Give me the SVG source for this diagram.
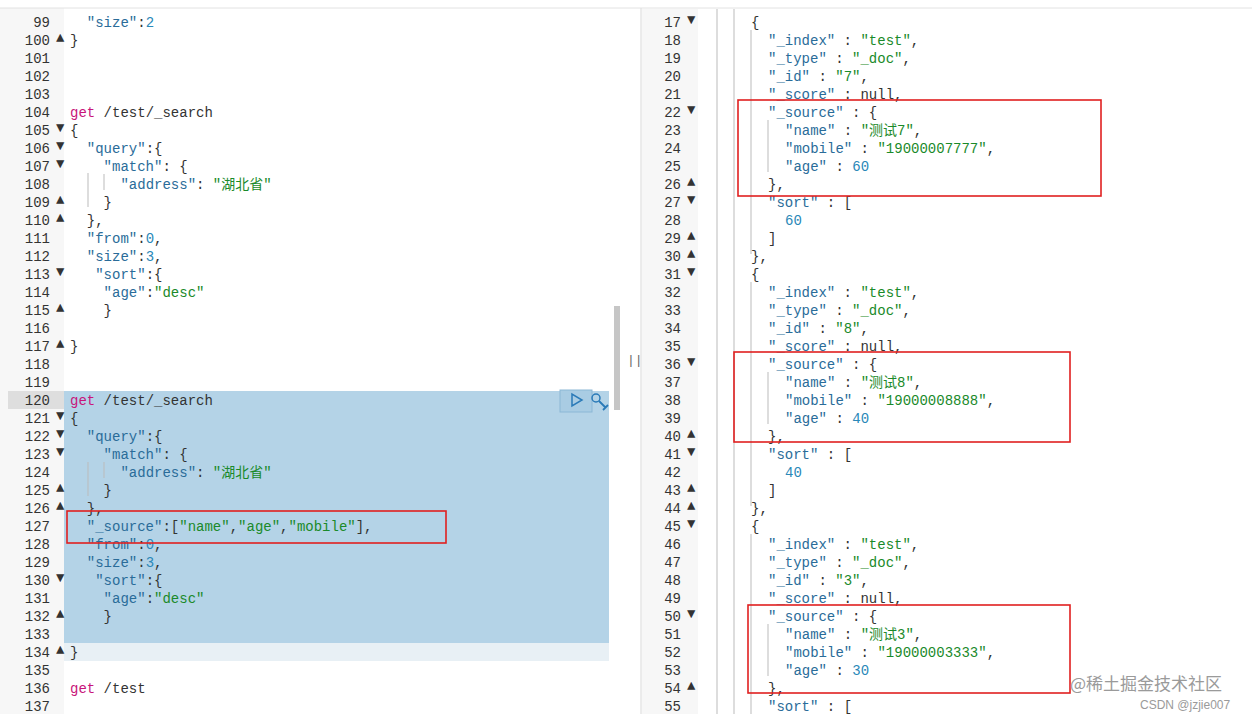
<svg xmlns="http://www.w3.org/2000/svg" width="1252" height="714" viewBox="0 0 1252 714">
<style>
text{font-family:"Liberation Mono","Noto Sans CJK SC",monospace;font-size:14px;fill:#333;white-space:pre}
.ln{fill:#555;text-anchor:end}
.k{fill:#2a6c99}.s{fill:#1a8a2a}.n{fill:#2a88b8}.m{fill:#c8157a}
.fd{fill:#999;font-size:6px;font-family:"DejaVu Sans",sans-serif}
.g{stroke:#bbb;stroke-width:1}
.box{fill:none;stroke:#e02020;stroke-width:1.6}
</style>
<rect width="1252" height="714" fill="#fff"/>
<g id="left">
<rect x="0" y="8" width="64" height="706" fill="#f7f7f7"/>
<rect x="8" y="391" width="56" height="18" fill="#dedede"/>
<rect x="64" y="391" width="545" height="252" fill="#b4d3e7"/>
<rect x="64" y="643" width="545" height="18" fill="#e8f0f5"/>
<rect x="560" y="390" width="32" height="22" fill="#a9cce3" stroke="#8bb8d6"/>
<path d="M572 394 L572 406 L582 400 Z" fill="none" stroke="#2a7ab8" stroke-width="1.5"/>
<circle cx="596" cy="398" r="4" fill="none" stroke="#2a7ab8" stroke-width="1.5"/><path d="M599 401 L606 408 M603 410 L608 405" stroke="#2a7ab8" stroke-width="1.8"/>
<rect x="614" y="306" width="6" height="104" fill="#c6c6c6"/>
<path class="g" d="M88 173 V207 M104 174 V190 M88 462 V496 M104 462 V478"/>
<g class="ln">
<text x="50" y="27">99</text><text x="50" y="45">100</text><text x="50" y="63">101</text><text x="50" y="81">102</text><text x="50" y="99">103</text><text x="50" y="117">104</text><text x="50" y="135">105</text><text x="50" y="153">106</text><text x="50" y="171">107</text><text x="50" y="189">108</text><text x="50" y="207">109</text><text x="50" y="225">110</text><text x="50" y="243">111</text><text x="50" y="261">112</text><text x="50" y="279">113</text><text x="50" y="297">114</text><text x="50" y="315">115</text><text x="50" y="333">116</text><text x="50" y="351">117</text><text x="50" y="369">118</text><text x="50" y="387">119</text><text x="50" y="405">120</text><text x="50" y="423">121</text><text x="50" y="441">122</text><text x="50" y="459">123</text><text x="50" y="477">124</text><text x="50" y="495">125</text><text x="50" y="513">126</text><text x="50" y="531">127</text><text x="50" y="549">128</text><text x="50" y="567">129</text><text x="50" y="585">130</text><text x="50" y="603">131</text><text x="50" y="621">132</text><text x="50" y="639">133</text><text x="50" y="657">134</text><text x="50" y="675">135</text><text x="50" y="693">136</text><text x="50" y="711">137</text>
</g>
<g class="fd">
<text x="56" y="42">▲</text><text x="56" y="132">▼</text><text x="56" y="150">▼</text><text x="56" y="168">▼</text><text x="56" y="204">▲</text><text x="56" y="222">▲</text><text x="56" y="276">▼</text><text x="56" y="312">▲</text><text x="56" y="348">▲</text>
<text x="56" y="420">▼</text><text x="56" y="438">▼</text><text x="56" y="456">▼</text><text x="56" y="492">▲</text><text x="56" y="510">▲</text><text x="56" y="582">▼</text><text x="56" y="618">▲</text><text x="56" y="654">▲</text>
</g>
<text x="70" y="27">  <tspan class="k">"size"</tspan>:<tspan class="n">2</tspan></text>
<text x="70" y="45">}</text>
<text x="70" y="117"><tspan class="m">get</tspan> /test/_search</text>
<text x="70" y="135">{</text>
<text x="70" y="153">  <tspan class="k">"query"</tspan>:{</text>
<text x="70" y="171">    <tspan class="k">"match"</tspan>: {</text>
<text x="70" y="189">      <tspan class="k">"address"</tspan>: <tspan class="s">"湖北省"</tspan></text>
<text x="70" y="207">    }</text>
<text x="70" y="225">  },</text>
<text x="70" y="243">  <tspan class="k">"from"</tspan>:<tspan class="n">0</tspan>,</text>
<text x="70" y="261">  <tspan class="k">"size"</tspan>:<tspan class="n">3</tspan>,</text>
<text x="70" y="279">   <tspan class="k">"sort"</tspan>:{</text>
<text x="70" y="297">    <tspan class="k">"age"</tspan>:<tspan class="s">"desc"</tspan></text>
<text x="70" y="315">    }</text>
<text x="70" y="351">}</text>
<text x="70" y="405"><tspan class="m">get</tspan> /test/_search</text>
<text x="70" y="423">{</text>
<text x="70" y="441">  <tspan class="k">"query"</tspan>:{</text>
<text x="70" y="459">    <tspan class="k">"match"</tspan>: {</text>
<text x="70" y="477">      <tspan class="k">"address"</tspan>: <tspan class="s">"湖北省"</tspan></text>
<text x="70" y="495">    }</text>
<text x="70" y="513">  },</text>
<text x="70" y="531">  <tspan class="k">"_source"</tspan>:[<tspan class="s">"name"</tspan>,<tspan class="s">"age"</tspan>,<tspan class="s">"mobile"</tspan>],</text>
<text x="70" y="549">  <tspan class="k">"from"</tspan>:<tspan class="n">0</tspan>,</text>
<text x="70" y="567">  <tspan class="k">"size"</tspan>:<tspan class="n">3</tspan>,</text>
<text x="70" y="585">   <tspan class="k">"sort"</tspan>:{</text>
<text x="70" y="603">    <tspan class="k">"age"</tspan>:<tspan class="s">"desc"</tspan></text>
<text x="70" y="621">    }</text>
<text x="70" y="657">}</text>
<text x="70" y="693"><tspan class="m">get</tspan> /test</text>
<rect x="67" y="511" width="379" height="32" class="box"/>
</g>
<g id="divider">
<line x1="641" y1="8" x2="641" y2="714" stroke="#d8d8d8"/>
<text x="627" y="364" style="font-size:13px;fill:#666">||</text>
<line x1="0" y1="8" x2="1252" y2="8" stroke="#e2e2e2"/>
</g>
<g id="right">
<rect x="642" y="9" width="56" height="705" fill="#f7f7f7"/>
<path class="g" d="M717 9 V714 M734 9 V714 M751 30 V254 M751 282 V506 M751 534 V714 M768 120 V172 M768 372 V424 M768 624 V676"/>
<g class="ln">
<text x="681" y="27">17</text><text x="681" y="45">18</text><text x="681" y="63">19</text><text x="681" y="81">20</text><text x="681" y="99">21</text><text x="681" y="117">22</text><text x="681" y="135">23</text><text x="681" y="153">24</text><text x="681" y="171">25</text><text x="681" y="189">26</text><text x="681" y="207">27</text><text x="681" y="225">28</text><text x="681" y="243">29</text><text x="681" y="261">30</text><text x="681" y="279">31</text><text x="681" y="297">32</text><text x="681" y="315">33</text><text x="681" y="333">34</text><text x="681" y="351">35</text><text x="681" y="369">36</text><text x="681" y="387">37</text><text x="681" y="405">38</text><text x="681" y="423">39</text><text x="681" y="441">40</text><text x="681" y="459">41</text><text x="681" y="477">42</text><text x="681" y="495">43</text><text x="681" y="513">44</text><text x="681" y="531">45</text><text x="681" y="549">46</text><text x="681" y="567">47</text><text x="681" y="585">48</text><text x="681" y="603">49</text><text x="681" y="621">50</text><text x="681" y="639">51</text><text x="681" y="657">52</text><text x="681" y="675">53</text><text x="681" y="693">54</text><text x="681" y="711">55</text>
</g>
<g class="fd">
<text x="687" y="24">▼</text><text x="687" y="114">▼</text><text x="687" y="186">▲</text><text x="687" y="204">▼</text><text x="687" y="240">▲</text><text x="687" y="258">▲</text>
<text x="687" y="276">▼</text><text x="687" y="366">▼</text><text x="687" y="438">▲</text><text x="687" y="456">▼</text><text x="687" y="492">▲</text><text x="687" y="510">▲</text>
<text x="687" y="528">▼</text><text x="687" y="618">▼</text><text x="687" y="690">▲</text>
</g>
<g transform="translate(751,0)">
<text x="0" y="27">{</text>
<text x="17" y="45"><tspan class="k">"_index"</tspan> : <tspan class="s">"test"</tspan>,</text>
<text x="17" y="63"><tspan class="k">"_type"</tspan> : <tspan class="s">"_doc"</tspan>,</text>
<text x="17" y="81"><tspan class="k">"_id"</tspan> : <tspan class="s">"7"</tspan>,</text>
<text x="17" y="99"><tspan class="k">"_score"</tspan> : null,</text>
<text x="17" y="117"><tspan class="k">"_source"</tspan> : {</text>
<text x="34" y="135"><tspan class="k">"name"</tspan> : <tspan class="s">"测试7"</tspan>,</text>
<text x="34" y="153"><tspan class="k">"mobile"</tspan> : <tspan class="s">"19000007777"</tspan>,</text>
<text x="34" y="171"><tspan class="k">"age"</tspan> : <tspan class="n">60</tspan></text>
<text x="17" y="189">},</text>
<text x="17" y="207"><tspan class="k">"sort"</tspan> : [</text>
<text x="34" y="225" class="n">60</text>
<text x="17" y="243">]</text>
<text x="0" y="261">},</text>
<text x="0" y="279">{</text>
<text x="17" y="297"><tspan class="k">"_index"</tspan> : <tspan class="s">"test"</tspan>,</text>
<text x="17" y="315"><tspan class="k">"_type"</tspan> : <tspan class="s">"_doc"</tspan>,</text>
<text x="17" y="333"><tspan class="k">"_id"</tspan> : <tspan class="s">"8"</tspan>,</text>
<text x="17" y="351"><tspan class="k">"_score"</tspan> : null,</text>
<text x="17" y="369"><tspan class="k">"_source"</tspan> : {</text>
<text x="34" y="387"><tspan class="k">"name"</tspan> : <tspan class="s">"测试8"</tspan>,</text>
<text x="34" y="405"><tspan class="k">"mobile"</tspan> : <tspan class="s">"19000008888"</tspan>,</text>
<text x="34" y="423"><tspan class="k">"age"</tspan> : <tspan class="n">40</tspan></text>
<text x="17" y="441">},</text>
<text x="17" y="459"><tspan class="k">"sort"</tspan> : [</text>
<text x="34" y="477" class="n">40</text>
<text x="17" y="495">]</text>
<text x="0" y="513">},</text>
<text x="0" y="531">{</text>
<text x="17" y="549"><tspan class="k">"_index"</tspan> : <tspan class="s">"test"</tspan>,</text>
<text x="17" y="567"><tspan class="k">"_type"</tspan> : <tspan class="s">"_doc"</tspan>,</text>
<text x="17" y="585"><tspan class="k">"_id"</tspan> : <tspan class="s">"3"</tspan>,</text>
<text x="17" y="603"><tspan class="k">"_score"</tspan> : null,</text>
<text x="17" y="621"><tspan class="k">"_source"</tspan> : {</text>
<text x="34" y="639"><tspan class="k">"name"</tspan> : <tspan class="s">"测试3"</tspan>,</text>
<text x="34" y="657"><tspan class="k">"mobile"</tspan> : <tspan class="s">"19000003333"</tspan>,</text>
<text x="34" y="675"><tspan class="k">"age"</tspan> : <tspan class="n">30</tspan></text>
<text x="17" y="693">},</text>
<text x="17" y="711"><tspan class="k">"sort"</tspan> : [</text>
</g>
<rect x="738" y="100" width="363" height="96" class="box"/>
<rect x="734" y="352" width="336" height="90" class="box"/>
<rect x="748" y="605" width="322" height="88" class="box"/>
<text x="1070" y="690" style="font-family:'Noto Sans CJK SC',sans-serif;font-size:17px;fill:#9a9a9a">@稀土掘金技术社区</text>
<text x="1140" y="709" style="font-family:'Liberation Sans',sans-serif;font-size:12px;fill:#9a9a9a">CSDN @jzjie007</text>
</g>
</svg>
